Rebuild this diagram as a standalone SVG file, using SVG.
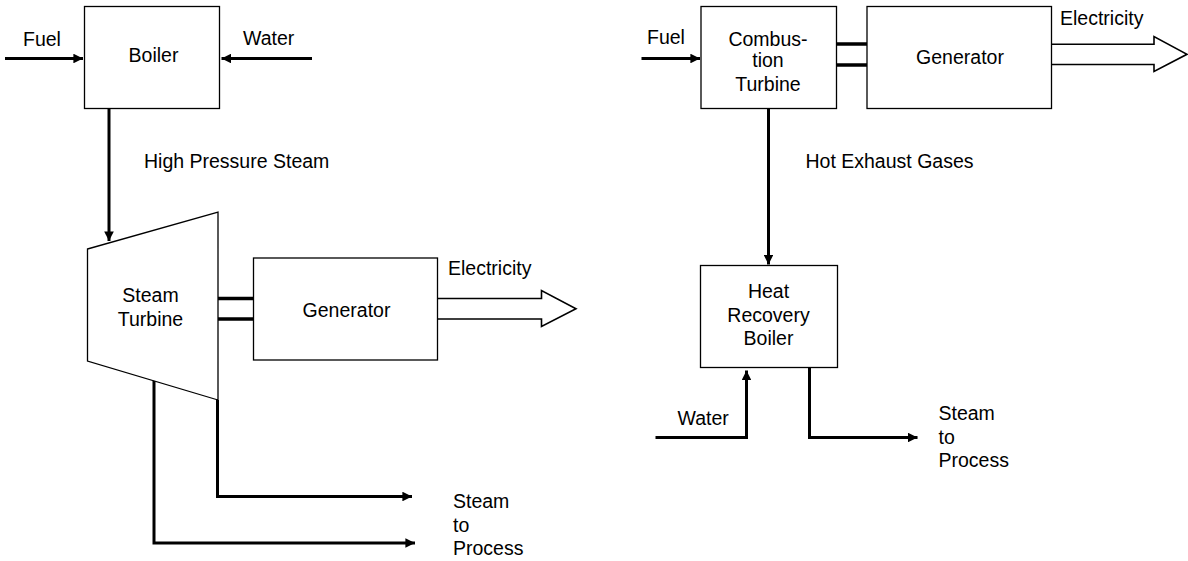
<svg xmlns="http://www.w3.org/2000/svg" width="1188" height="561" viewBox="0 0 1188 561">
<style>
  .box { fill: #fff; stroke: #000; stroke-width: 1.3; }
  .flow { fill: none; stroke: #000; stroke-width: 3; }
  .shaft { fill: none; stroke: #000; stroke-width: 3.5; }
  .hollow { fill: #fff; stroke: #000; stroke-width: 1.6; stroke-linejoin: miter; }
  text { font-family: "Liberation Sans", Arial, sans-serif; font-size: 19.5px; fill: #000; }
  .c { text-anchor: middle; }
</style>
<defs>
  <marker id="ah" viewBox="0 0 10 10" refX="10" refY="5" markerWidth="3.2" markerHeight="3.2" orient="auto" markerUnits="strokeWidth">
    <path d="M0,0 L10,5 L0,10 Z" fill="#000"/>
  </marker>
</defs>
<rect width="1188" height="561" fill="#fff"/>

<g id="connectors">
  <!-- left system -->
  <path class="flow" d="M5,58.5 H83" marker-end="url(#ah)"/>
  <path class="flow" d="M312,58.5 H221.5" marker-end="url(#ah)"/>
  <path class="flow" d="M109,109 V241" marker-end="url(#ah)"/>
  <path class="shaft" d="M218,298.5 H253"/>
  <path class="shaft" d="M218,319 H253"/>
  <path class="hollow" d="M437,298.5 H541.5 V290.5 L576,308.7 L541.5,326.5 V319 H437"/>
  <path class="flow" d="M217.5,400 V496.5 H412" marker-end="url(#ah)"/>
  <path class="flow" d="M154,380 V543 H415" marker-end="url(#ah)"/>
  <!-- right system -->
  <path class="flow" d="M641.5,58.5 H700" marker-end="url(#ah)"/>
  <path class="shaft" d="M836.5,44 H867"/>
  <path class="shaft" d="M836.5,65 H867"/>
  <path class="hollow" d="M1051.5,44.3 H1154 V36.5 L1187,54.3 L1154,71.5 V64.5 H1051.5"/>
  <path class="flow" d="M768.5,108.5 V264.5" marker-end="url(#ah)"/>
  <path class="flow" d="M655.5,437.5 H746.5 V370.5" marker-end="url(#ah)"/>
  <path class="flow" d="M809.5,368 V437.5 H917.5" marker-end="url(#ah)"/>
</g>

<g id="boiler">
  <rect class="box" x="84.5" y="6.5" width="135" height="102"/>
  <text class="c" x="153.5" y="62">Boiler</text>
</g>
<g id="steam-turbine">
  <polygon class="box" points="87.5,249 218,212 218,400 87.5,361"/>
  <text class="c" x="150.5" y="301.5">Steam</text>
  <text class="c" x="150.5" y="325.5">Turbine</text>
</g>
<g id="generator-left">
  <rect class="box" x="253.5" y="258" width="184" height="102"/>
  <text class="c" x="346.5" y="316.5">Generator</text>
</g>
<g id="combustion-turbine">
  <rect class="box" x="701" y="6.5" width="135.5" height="102"/>
  <text class="c" x="768" y="46">Combus-</text>
  <text class="c" x="768" y="67">tion</text>
  <text class="c" x="768" y="90.5">Turbine</text>
</g>
<g id="generator-right">
  <rect class="box" x="867" y="6.5" width="184.5" height="102"/>
  <text class="c" x="960" y="64">Generator</text>
</g>
<g id="heat-recovery-boiler">
  <rect class="box" x="700.5" y="265.5" width="137" height="102"/>
  <text class="c" x="768.5" y="298">Heat</text>
  <text class="c" x="768.5" y="321.5">Recovery</text>
  <text class="c" x="768.5" y="345">Boiler</text>
</g>

<g id="labels">
  <text x="23" y="46">Fuel</text>
  <text x="243" y="45">Water</text>
  <text x="144" y="168">High Pressure Steam</text>
  <text x="448" y="275">Electricity</text>
  <text x="453" y="508">Steam</text>
  <text x="453" y="531.5">to</text>
  <text x="453" y="555">Process</text>
  <text x="647" y="44">Fuel</text>
  <text x="1060" y="25">Electricity</text>
  <text x="805.5" y="168">Hot Exhaust Gases</text>
  <text x="677.5" y="424.5">Water</text>
  <text x="938.5" y="420">Steam</text>
  <text x="938.5" y="443.5">to</text>
  <text x="938.5" y="467">Process</text>
</g>
</svg>
